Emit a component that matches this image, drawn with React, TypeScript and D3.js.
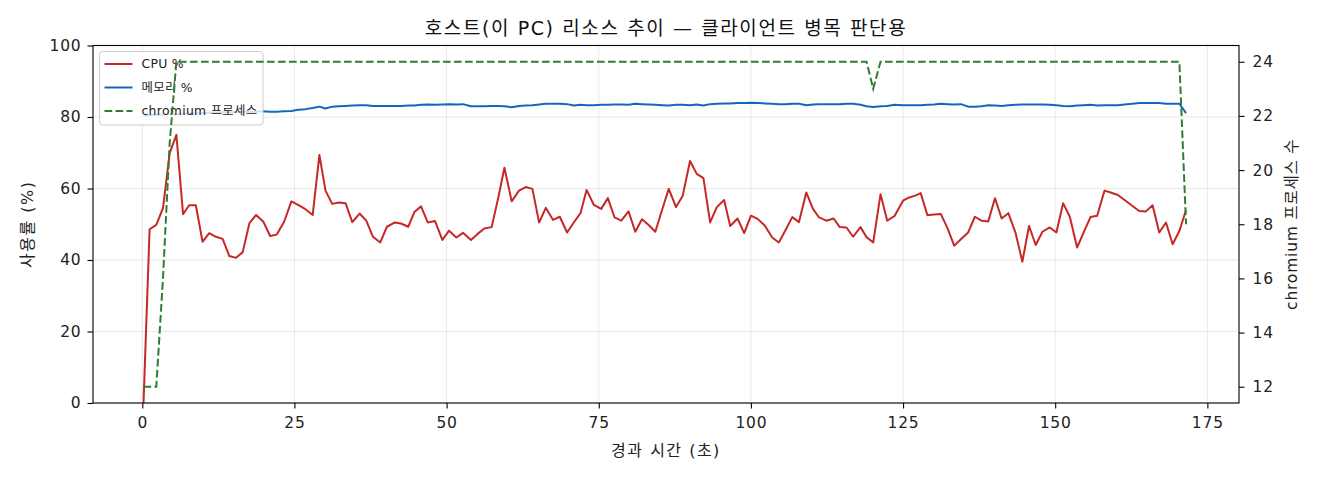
import React, { useRef, useEffect } from 'react';
import * as d3 from 'd3';

// sample times (s)
const TIME_S = [
  0.2, 1.2, 2.3, 3.4, 4.5, 5.6, 6.7, 7.7, 8.8, 9.9,
  11.0, 12.1, 13.2, 14.3, 15.4, 16.5, 17.6, 18.7, 19.9, 21.0,
  22.1, 23.3, 24.5, 25.6, 26.8, 28.0, 29.1, 30.1, 31.2, 32.3,
  33.4, 34.5, 35.7, 36.8, 37.9, 39.1, 40.2, 41.5, 42.5, 43.7,
  44.7, 45.8, 46.9, 48.1, 49.3, 50.4, 51.6, 52.7, 54.0, 55.1,
  56.2, 57.4, 58.5, 59.5, 60.7, 61.9, 63.0, 64.1, 65.2, 66.3,
  67.5, 68.6, 69.8, 70.9, 72.0, 73.0, 74.2, 75.4, 76.5, 77.6,
  78.7, 79.9, 81.0, 82.1, 83.2, 84.3, 85.4, 86.5, 87.7, 88.8,
  90.0, 91.1, 92.2, 93.3, 94.4, 95.6, 96.6, 97.8, 98.9, 100.0,
  101.1, 102.3, 103.5, 104.6, 105.7, 106.8, 107.9, 109.1, 110.2, 111.2,
  112.4, 113.6, 114.6, 115.7, 116.8, 118.0, 119.0, 120.1, 121.3, 122.4,
  123.6, 125.0, 126.0, 127.0, 127.9, 129.0, 130.1, 131.2, 132.3, 133.4,
  134.5, 135.7, 136.8, 137.9, 139.0, 140.1, 141.2, 142.3, 143.5, 144.6,
  145.7, 146.8, 147.9, 149.1, 150.2, 151.3, 152.4, 153.6, 154.7, 155.8,
  156.9, 158.1, 159.1, 160.3, 161.4, 162.7, 163.8, 164.9, 166.0, 167.1,
  168.2, 169.3, 170.4, 171.5,
];

const CPU_PCT = [
  0, 48.6, 49.8, 54.5, 69.9, 75.0, 52.8, 55.3, 55.3, 45.1,
  47.5, 46.5, 45.9, 41.1, 40.6, 42.2, 50.3, 52.6, 50.7, 46.7,
  47.1, 50.7, 56.4, 55.4, 54.2, 52.6, 69.4, 59.4, 55.7, 56.1,
  55.9, 50.6, 53.0, 51.0, 46.5, 44.9, 49.3, 50.5, 50.2, 49.3,
  53.4, 55.0, 50.5, 50.9, 45.6, 48.2, 46.3, 47.6, 45.6, 47.3,
  48.8, 49.2, 57.5, 65.8, 56.4, 59.4, 60.4, 59.9, 50.5, 54.6,
  51.2, 52.1, 47.7, 50.5, 53.1, 59.6, 55.4, 54.3, 57.3, 51.9,
  51.0, 53.6, 47.9, 51.4, 49.8, 47.9, 54.0, 59.9, 54.8, 58.0,
  67.7, 64.1, 62.9, 50.5, 54.8, 56.8, 49.5, 51.6, 47.5, 52.4,
  51.5, 49.6, 46.3, 44.9, 48.4, 52.0, 50.6, 58.9, 54.3, 51.9,
  51.0, 51.6, 49.2, 49.1, 46.5, 49.2, 46.4, 44.9, 58.4, 51.0,
  52.3, 56.6, 57.5, 58.0, 58.7, 52.5, 52.7, 52.9, 48.9, 44.0,
  45.8, 47.7, 52.1, 51.0, 50.8, 57.3, 51.6, 53.1, 47.5, 39.5,
  49.5, 44.2, 47.9, 49.1, 47.7, 55.9, 52.1, 43.5, 47.8, 52.0,
  52.4, 59.4, 58.9, 58.2, 56.8, 55.1, 53.7, 53.6, 55.3, 47.7,
  50.5, 44.4, 48.1, 54.0,
];

const MEM_PCT = [
  80.4, 80.5, 80.6, 80.7, 80.8, 80.8, 80.9, 81.0, 81.0, 81.1,
  81.2, 81.2, 81.3, 81.3, 81.4, 81.4, 81.5, 81.5, 81.6, 81.5,
  81.5, 81.6, 81.7, 82.0, 82.2, 82.5, 82.9, 82.4, 82.9, 83.0,
  83.1, 83.2, 83.3, 83.3, 83.1, 83.1, 83.1, 83.1, 83.1, 83.2,
  83.2, 83.4, 83.5, 83.4, 83.5, 83.6, 83.5, 83.6, 83.0, 83.0,
  83.0, 83.1, 83.1, 83.0, 82.7, 83.1, 83.2, 83.3, 83.5, 83.7,
  83.7, 83.7, 83.6, 83.2, 83.4, 83.3, 83.3, 83.4, 83.4, 83.5,
  83.5, 83.4, 83.7, 83.6, 83.5, 83.4, 83.3, 83.2, 83.4, 83.4,
  83.3, 83.5, 83.2, 83.6, 83.7, 83.8, 83.8, 83.9, 83.9, 84.0,
  83.9, 83.8, 83.7, 83.6, 83.6, 83.7, 83.7, 83.3, 83.5, 83.6,
  83.6, 83.6, 83.6, 83.7, 83.7, 83.4, 83.0, 82.8, 83.0, 83.1,
  83.4, 83.3, 83.3, 83.3, 83.3, 83.4, 83.5, 83.7, 83.6, 83.5,
  83.6, 82.9, 82.9, 83.0, 83.3, 83.2, 83.1, 83.3, 83.4, 83.5,
  83.5, 83.5, 83.5, 83.4, 83.3, 83.1, 83.0, 83.2, 83.3, 83.4,
  83.2, 83.3, 83.3, 83.3, 83.5, 83.7, 83.9, 83.9, 83.9, 83.9,
  83.7, 83.7, 83.7, 81.1,
];

const CHROMIUM_PROCS = [
  12, 12, 12, 16, 21, 24, 24, 24, 24, 24,
  24, 24, 24, 24, 24, 24, 24, 24, 24, 24,
  24, 24, 24, 24, 24, 24, 24, 24, 24, 24,
  24, 24, 24, 24, 24, 24, 24, 24, 24, 24,
  24, 24, 24, 24, 24, 24, 24, 24, 24, 24,
  24, 24, 24, 24, 24, 24, 24, 24, 24, 24,
  24, 24, 24, 24, 24, 24, 24, 24, 24, 24,
  24, 24, 24, 24, 24, 24, 24, 24, 24, 24,
  24, 24, 24, 24, 24, 24, 24, 24, 24, 24,
  24, 24, 24, 24, 24, 24, 24, 24, 24, 24,
  24, 24, 24, 24, 24, 24, 24, 23, 24, 24,
  24, 24, 24, 24, 24, 24, 24, 24, 24, 24,
  24, 24, 24, 24, 24, 24, 24, 24, 24, 24,
  24, 24, 24, 24, 24, 24, 24, 24, 24, 24,
  24, 24, 24, 24, 24, 24, 24, 24, 24, 24,
  24, 24, 24, 18,
];

const X_TICKS = [0, 25, 50, 75, 100, 125, 150, 175];
const LEFT_TICKS = [0, 20, 40, 60, 80, 100];
const RIGHT_TICKS = [12, 14, 16, 18, 20, 22, 24];

const TITLE = '호스트(이 PC) 리소스 추이 — 클라이언트 병목 판단용';
const X_LABEL = '경과 시간 (초)';
const LEFT_LABEL = '사용률 (%)';
const RIGHT_LABEL = 'chromium 프로세스 수';
const LEGEND_LABELS = ['CPU %', '메모리 %', 'chromium 프로세스'];

const FONT = '"DejaVu Sans", "Noto Sans CJK KR", sans-serif';
const RED = '#c62828';
const BLUE = '#1565c0';
const GREEN = '#2e7d32';

const App: React.FC = () => {
  const chartRef = useRef<SVGSVGElement | null>(null);

  useEffect(() => {
    if (!chartRef.current) return;
    const svg = d3.select(chartRef.current);
    svg.selectAll('*').remove();

    const width = 1320;
    const height = 480;
    const left = 93;
    const right = 1239;
    const top = 45.5;
    const bottom = 403;

    const x = d3.scaleLinear().domain([-8.1, 180.2]).range([left, right]);
    const y = d3.scaleLinear().domain([0, 100]).range([bottom, top]);
    const y2 = d3.scaleLinear().domain([11.4, 24.6]).range([bottom, top]);

    svg.append('rect').attr('width', width).attr('height', height).attr('fill', '#fff');

    // grid
    const grid = svg.append('g').attr('stroke', '#b0b0b0').attr('stroke-opacity', 0.35).attr('stroke-width', 0.8);
    grid.selectAll('line.gx').data(X_TICKS).join('line')
      .attr('x1', d => x(d)).attr('x2', d => x(d)).attr('y1', top).attr('y2', bottom);
    grid.selectAll('line.gy').data(LEFT_TICKS).join('line')
      .attr('x1', left).attr('x2', right).attr('y1', d => y(d)).attr('y2', d => y(d));

    const idx = d3.range(TIME_S.length);

    svg.append('clipPath').attr('id', 'plot-clip')
      .append('rect').attr('x', left).attr('y', top).attr('width', right - left).attr('height', bottom - top);

    const lineLeft = (vals: number[]) => d3.line<number>()
      .x(i => x(TIME_S[i]))
      .y(i => y(vals[i]))(idx);

    const plot = svg.append('g').attr('clip-path', 'url(#plot-clip)');
    plot.append('path').attr('d', lineLeft(CPU_PCT)).attr('fill', 'none')
      .attr('stroke', RED).attr('stroke-width', 2).attr('stroke-linejoin', 'round');
    plot.append('path').attr('d', lineLeft(MEM_PCT)).attr('fill', 'none')
      .attr('stroke', BLUE).attr('stroke-width', 2).attr('stroke-linejoin', 'round');

    // legend (belongs to the left axis, so the process line sits above it)
    const lg = svg.append('g');
    lg.append('rect').attr('x', 99.5).attr('y', 51.5).attr('width', 163.5).attr('height', 73.5)
      .attr('rx', 3).attr('fill', '#fff').attr('fill-opacity', 0.8)
      .attr('stroke', '#cccccc').attr('stroke-width', 1);
    const legendRows = [
      { label: LEGEND_LABELS[0], color: RED, dash: null },
      { label: LEGEND_LABELS[1], color: BLUE, dash: null },
      { label: LEGEND_LABELS[2], color: GREEN, dash: '7.7,3.3' },
    ];
    legendRows.forEach((r, i) => {
      const cy = 64 + i * 23.5;
      lg.append('line').attr('x1', 104.5).attr('x2', 132.5).attr('y1', cy).attr('y2', cy)
        .attr('stroke', r.color).attr('stroke-width', 2)
        .attr('stroke-dasharray', r.dash);
      lg.append('text').attr('x', 141.5).attr('y', cy).attr('dy', '0.36em')
        .attr('font-family', FONT).attr('font-size', 12.4).attr('letter-spacing', 0.3).attr('fill', '#222')
        .text(r.label);
    });

    const procLine = d3.line<number>()
      .x(i => x(TIME_S[i]))
      .y(i => y2(CHROMIUM_PROCS[i]))(idx);
    svg.append('g').attr('clip-path', 'url(#plot-clip)')
      .append('path').attr('d', procLine).attr('fill', 'none')
      .attr('stroke', GREEN).attr('stroke-width', 2).attr('stroke-dasharray', '7.7,3.3');

    // frame
    svg.append('rect').attr('x', left).attr('y', top).attr('width', right - left).attr('height', bottom - top)
      .attr('fill', 'none').attr('stroke', '#000').attr('stroke-width', 1.1);

    // axes
    const styleAxis = (g: d3.Selection<SVGGElement, unknown, null, undefined>) => {
      g.select('.domain').remove();
      g.selectAll('.tick line').attr('stroke', '#000').attr('stroke-width', 1.1);
      g.selectAll('.tick text').attr('font-family', FONT).attr('font-size', 15.5)
        .attr('letter-spacing', 0.8).attr('fill', '#222');
    };

    svg.append('g').attr('transform', `translate(0,${bottom})`)
      .call(d3.axisBottom(x).tickValues(X_TICKS).tickSize(5.5).tickPadding(8).tickSizeOuter(0))
      .call(styleAxis);

    svg.append('g').attr('transform', `translate(${left},0)`)
      .call(d3.axisLeft(y).tickValues(LEFT_TICKS).tickSize(5.5).tickPadding(6).tickSizeOuter(0))
      .call(styleAxis);

    svg.append('g').attr('transform', `translate(${right},0)`)
      .call(d3.axisRight(y2).tickValues(RIGHT_TICKS).tickSize(5.5).tickPadding(8).tickSizeOuter(0))
      .call(styleAxis);

    // labels
    svg.append('text').attr('x', (left + right) / 2).attr('y', 35)
      .attr('text-anchor', 'middle').attr('font-family', FONT).attr('font-size', 19)
      .attr('letter-spacing', 1.6).attr('fill', '#111')
      .text(TITLE);

    svg.append('text').attr('x', (left + right) / 2).attr('y', 456)
      .attr('text-anchor', 'middle').attr('font-family', FONT).attr('font-size', 16)
      .attr('letter-spacing', 1.5).attr('fill', '#222')
      .text(X_LABEL);

    svg.append('text').attr('transform', `translate(33,${(top + bottom) / 2}) rotate(-90)`)
      .attr('text-anchor', 'middle').attr('font-family', FONT).attr('font-size', 16)
      .attr('letter-spacing', 1.5).attr('fill', '#222')
      .text(LEFT_LABEL);

    svg.append('text').attr('transform', `translate(1297,${(top + bottom) / 2}) rotate(-90)`)
      .attr('text-anchor', 'middle').attr('font-family', FONT).attr('font-size', 15.5)
      .attr('letter-spacing', 0.8).attr('fill', '#222')
      .text(RIGHT_LABEL);
  }, []);

  return (
    <svg
      ref={chartRef}
      width={1320}
      height={480}
      style={{ position: 'absolute', left: 0, top: 0, display: 'block' }}
    />
  );
};

export default App;
